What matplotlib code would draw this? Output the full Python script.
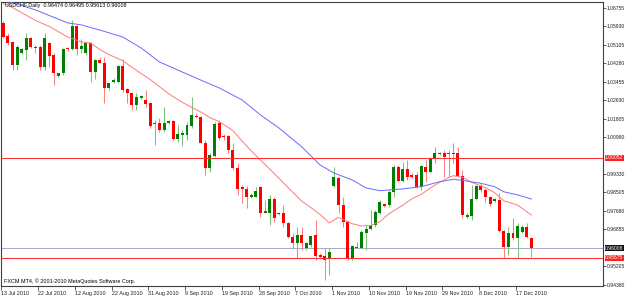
import matplotlib
matplotlib.use('Agg')
import matplotlib.pyplot as plt
import matplotlib.transforms as mtransforms

# Daily USDCHF bars (open, high, low, close)
opens = [1.0609, 1.0550, 1.0524, 1.0421, 1.0474, 1.0488, 1.0541, 1.0501, 1.0501, 1.0412,
         1.0519, 1.0465, 1.0371, 1.0385, 1.0492, 1.0492, 1.0595, 1.0492, 1.0474, 1.0519,
         1.0389, 1.0443, 1.0430, 1.0318, 1.0345, 1.0345, 1.0416, 1.0313, 1.0295, 1.0242,
         1.0273, 1.0264, 1.0251, 1.0155, 1.0162, 1.0130, 1.0162, 1.0170, 1.0089, 1.0106,
         1.0106, 1.0148, 1.0192, 1.0189, 1.0073, 0.9958, 1.0013, 1.0160, 1.0103, 1.0103,
         1.0040, 0.9958, 0.9875, 0.9864, 0.9831, 0.9831, 0.9876, 0.9759, 0.9759, 0.9819,
         0.9752, 0.9757, 0.9715, 0.9652, 0.9622, 0.9660, 0.9600, 0.9615, 0.9660, 0.9570,
         0.9567, 0.9555, 0.9879, 0.9916, 0.9794, 0.9719, 0.9555, 0.9607, 0.9603, 0.9670,
         0.9685, 0.9704, 0.9759, 0.9798, 0.9794, 0.9853, 0.9963, 0.9903, 0.9954, 0.9928,
         0.9928, 0.9873, 0.9963, 0.9943, 1.0003, 1.0022, 1.0028, 1.0022, 1.0022, 1.0028,
         0.9924, 0.9742, 0.9745, 0.9819, 0.9879, 0.9861, 0.9828, 0.9813, 0.9816, 0.9679,
         0.9607, 0.9668, 0.9645, 0.9674, 0.9696, 0.96474]
highs = [1.0618, 1.0564, 1.0528, 1.0510, 1.0497, 1.0564, 1.0546, 1.0510, 1.0510, 1.0564,
         1.0524, 1.0474, 1.0386, 1.0497, 1.0501, 1.0622, 1.0600, 1.0537, 1.0524, 1.0524,
         1.0447, 1.0456, 1.0456, 1.0341, 1.0362, 1.0421, 1.0447, 1.0318, 1.0300, 1.0295,
         1.0286, 1.0309, 1.0255, 1.0174, 1.0183, 1.0234, 1.0174, 1.0174, 1.0152, 1.0130,
         1.0167, 1.0279, 1.0206, 1.0192, 1.0085, 1.0025, 1.0167, 1.0174, 1.0112, 1.0107,
         1.0073, 0.9981, 0.9884, 0.9879, 0.9846, 0.9876, 0.9879, 0.9816, 0.9839, 0.9828,
         0.9763, 0.9794, 0.9719, 0.9669, 0.9696, 0.9696, 0.9630, 0.9660, 0.9727, 0.9578,
         0.9600, 0.9601, 0.9965, 0.9921, 0.9830, 0.9727, 0.9615, 0.9630, 0.9682, 0.9704,
         0.9771, 0.9771, 0.9816, 0.9801, 0.9861, 0.9973, 0.9973, 0.9988, 0.9995, 0.9936,
         0.9943, 0.9973, 0.9995, 1.0010, 1.0055, 1.0032, 1.0040, 1.0040, 1.0070, 1.0052,
         0.9951, 0.9757, 0.9884, 0.9884, 0.9894, 0.9869, 0.9834, 0.9824, 0.9846, 0.9682,
         0.9694, 0.9734, 0.9715, 0.9704, 0.9715, 0.96495]
lows = [1.0541, 1.0510, 1.0398, 1.0398, 1.0470, 1.0443, 1.0497, 1.0474, 1.0398, 1.0398,
        1.0412, 1.0331, 1.0367, 1.0376, 1.0483, 1.0488, 1.0465, 1.0474, 1.0465, 1.0345,
        1.0358, 1.0428, 1.0251, 1.0309, 1.0340, 1.0340, 1.0300, 1.0251, 1.0219, 1.0219,
        1.0268, 1.0233, 1.0139, 1.0063, 1.0122, 1.0122, 1.0156, 1.0085, 1.0077, 1.0058,
        1.0085, 1.0137, 1.0183, 1.0070, 0.9928, 0.9943, 1.0010, 1.0085, 1.0085, 1.0028,
        0.9951, 0.9839, 0.9801, 0.9779, 0.9824, 0.9828, 0.9742, 0.9757, 0.9704, 0.9719,
        0.9749, 0.9696, 0.9645, 0.9601, 0.9555, 0.9592, 0.9592, 0.9607, 0.9548, 0.9555,
        0.9458, 0.9481, 0.9876, 0.9758, 0.9696, 0.9548, 0.9548, 0.9600, 0.9600, 0.9592,
        0.9682, 0.9696, 0.9754, 0.9784, 0.9786, 0.9830, 0.9898, 0.9898, 0.9906, 0.9913,
        0.9869, 0.9861, 0.9898, 0.9936, 0.9981, 1.0018, 0.9921, 0.9921, 0.9981, 0.9921,
        0.9734, 0.9734, 0.9727, 0.9816, 0.9853, 0.9809, 0.9789, 0.9809, 0.9674, 0.9555,
        0.9570, 0.9637, 0.9555, 0.9670, 0.9645, 0.95613]
closes = [1.0546, 1.0519, 1.0421, 1.0501, 1.0492, 1.0541, 1.0501, 1.0497, 1.0412, 1.0541,
          1.0461, 1.0385, 1.0385, 1.0492, 1.0490, 1.0595, 1.0492, 1.0506, 1.0519, 1.0389,
          1.0443, 1.0430, 1.0318, 1.0340, 1.0353, 1.0416, 1.0309, 1.0295, 1.0242, 1.0277,
          1.0282, 1.0246, 1.0148, 1.0162, 1.0130, 1.0162, 1.0170, 1.0089, 1.0112, 1.0114,
          1.0152, 1.0197, 1.0187, 1.0073, 0.9958, 1.0018, 1.0156, 1.0093, 1.0097, 1.0040,
          0.9958, 0.9864, 0.9866, 0.9828, 0.9839, 0.9858, 0.9759, 0.9767, 0.9819, 0.9734,
          0.9759, 0.9715, 0.9652, 0.9622, 0.9660, 0.9622, 0.9622, 0.9655, 0.9566, 0.9563,
          0.9548, 0.9585, 0.9921, 0.9794, 0.9719, 0.9555, 0.9610, 0.9603, 0.9674, 0.9685,
          0.9704, 0.9764, 0.9809, 0.9789, 0.9853, 0.9963, 0.9903, 0.9954, 0.9921, 0.9921,
          0.9873, 0.9968, 0.9943, 1.0003, 1.0028, 1.0028, 1.0010, 1.0028, 1.0028, 0.9924,
          0.9749, 0.9749, 0.9819, 0.9879, 0.9861, 0.9828, 0.9798, 0.9819, 0.9679, 0.9607,
          0.9668, 0.9645, 0.9700, 0.9696, 0.9649, 0.96008]

# Moving averages (bar index, value) read at sample bars
ma_fast_bar = [0, 1, 7, 10, 14, 17, 19, 21, 23, 26, 28, 32, 36, 39, 41, 43, 45, 47, 50, 52,
               54, 56, 58, 60, 62, 65, 67, 69, 71, 72, 73, 76, 78, 80, 82, 84, 87, 89, 91, 93,
               95, 97, 98, 100, 102, 105, 107, 109, 112, 115]
ma_fast = [1.0695, 1.0689, 1.0620, 1.0593, 1.0546, 1.0524, 1.0519, 1.0490, 1.0467, 1.0440,
           1.0410, 1.0355, 1.0292, 1.0253, 1.0231, 1.0210, 1.0185, 1.0167, 1.0127, 1.0080,
           1.0036, 0.9995, 0.9955, 0.9914, 0.9872, 0.9811, 0.9782, 0.9751, 0.9713, 0.9727,
           0.9738, 0.9710, 0.9700, 0.9702, 0.9719, 0.9755, 0.9793, 0.9822, 0.9841, 0.9870,
           0.9895, 0.9917, 0.9925, 0.9918, 0.9895, 0.9872, 0.9849, 0.9813, 0.9793, 0.9749]
ma_slow_bar = [0, 7, 14, 17, 21, 26, 30, 34, 39, 43, 47, 52, 56, 60, 65, 69, 72, 76, 79, 82,
               84, 87, 91, 95, 98, 100, 104, 107, 109, 112, 115]
ma_slow = [1.0712, 1.0667, 1.0609, 1.0600, 1.0577, 1.0546, 1.0497, 1.0434, 1.0389, 1.0353,
           1.0318, 1.0264, 1.0197, 1.0139, 1.0054, 0.9973, 0.9937, 0.9906, 0.9870, 0.9858,
           0.9861, 0.9866, 0.9876, 0.9898, 0.9909, 0.9904, 0.9891, 0.9876, 0.9853, 0.9839,
           0.9821]

# Horizontal levels and axis labels
level_high = 1.00052
level_low = 0.95575
bid = 0.96008
price_ticks = [1.06755, 1.05930, 1.05105, 1.04280, 1.03455, 1.02630, 1.01805, 1.00980,
               0.99330, 0.98505, 0.97680, 0.96855, 0.95205, 0.94380]
date_bars = [0, 8, 16, 24, 32, 40, 48, 56, 64, 72, 80, 88, 96, 104, 112]
date_labels = ['13 Jul 2010', '22 Jul 2010', '12 Aug 2010', '22 Aug 2010', '31 Aug 2010',
               '9 Sep 2010', '19 Sep 2010', '28 Sep 2010', '7 Oct 2010', '1 Nov 2010',
               '10 Nov 2010', '19 Nov 2010', '29 Nov 2010', '8 Dec 2010', '17 Dec 2010']

FONT = 'Liberation Sans'
FS = 3.9      # date labels, header, footer
FS_P = 3.6    # price labels on the right
W, H = 625, 296

fig = plt.figure(figsize=(W / 100, H / 100), dpi=100)
fig.patch.set_facecolor('white')
ax = fig.add_axes([1.5 / W, (H - 286) / H, (603 - 1.5) / W, (286 - 2) / H])

# candles
for i in range(len(opens)):
    o, h, l, c = opens[i], highs[i], lows[i], closes[i]
    up = c >= o
    wick = '#7fbf7f' if up else '#ff8080'
    body = '#008000' if up else '#ff0000'
    ax.vlines(i, l, h, colors=wick, linewidth=0.75, zorder=2)
    ax.bar(i, max(abs(c - o), 0.00045), bottom=min(o, c), width=0.65,
           color=body, linewidth=0, zorder=3)

# moving averages
ax.plot(ma_fast_bar, ma_fast, color='#ff7a7a', linewidth=0.7, zorder=4)
ax.plot(ma_slow_bar, ma_slow, color='#6a6aff', linewidth=0.7, zorder=4)

# horizontal lines
ax.axhline(level_high, color='#ff3030', linewidth=0.75, zorder=5)
ax.axhline(level_low, color='#ff3030', linewidth=0.75, zorder=5)
ax.axhline(bid, color='#a8aec8', linewidth=0.75, zorder=1)

ax.set_xlim(-0.17, 130.6)
ax.set_ylim(0.94313, 1.07025)

# axes styling
for s in ax.spines.values():
    s.set_color('#404040')
    s.set_linewidth(0.8)
ax.yaxis.tick_right()
ax.set_yticks(price_ticks)
ax.set_yticklabels(['%.5f' % v for v in price_ticks], fontsize=FS_P, family=FONT, color='#202020')
ax.tick_params(axis='y', length=2, width=0.6, pad=0.8, colors='#404040', labelcolor='#202020')
ax.set_xticks([b - 0.4 for b in date_bars])
ax.set_xticklabels(date_labels, fontsize=FS, family=FONT, color='#202020')
for t in ax.get_xticklabels():
    t.set_horizontalalignment('left')
ax.tick_params(axis='x', length=3, width=0.6, pad=0.6, colors='#404040', labelcolor='#202020')

# price labels with coloured boxes
trans = mtransforms.blended_transform_factory(ax.transAxes, ax.transData)
for val, bg in [(level_high, '#ff2020'), (bid, '#101010'), (level_low, '#ff2020')]:
    ax.text(1.0035, val, '%.5f' % val, transform=trans, fontsize=FS_P, family=FONT,
            color='white', va='center', ha='left', clip_on=False,
            bbox=dict(facecolor=bg, edgecolor='none', pad=0.4))

# header and footer
fig.text(5 / W, 1 - 5.5 / H, 'USDCHF,Daily  0.96474 0.96495 0.95613 0.96008',
         fontsize=FS, family=FONT, color='black', va='center', ha='left')
fig.text(3.5 / W, 1 - 281.5 / H, 'FXCM MT4, \u00a9 2001-2010 MetaQuotes Software Corp.',
         fontsize=FS, family=FONT, color='black', va='center', ha='left')

fig.savefig('out.png', dpi=100, facecolor='white')
